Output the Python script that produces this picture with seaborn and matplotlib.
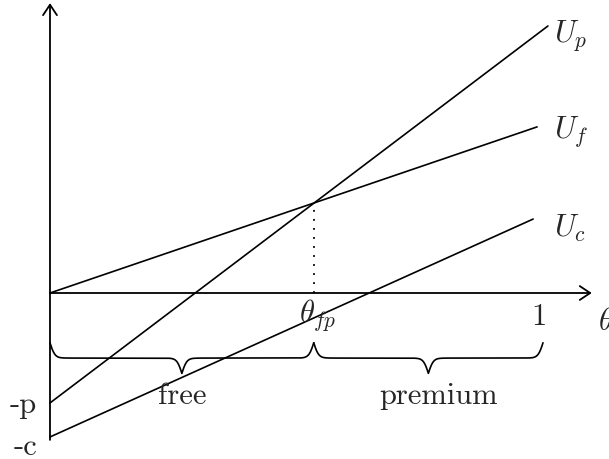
import numpy as np
import pandas as pd
import matplotlib.pyplot as plt
import seaborn as sns

# -----------------------------
# values (theta on x, utility on y)
# -----------------------------
theta_fp = 0.535
p = 0.223
c = 0.292

line_names = ["U_p", "U_f", "U_c"]
intercepts = [-p, 0.0, -c]
slopes = [0.757, 0.341, 0.451]
line_ends = [1.010, 0.988, 0.980]
label_y = [0.523, 0.327, 0.132]

segments = ["free", "premium"]
segment_bounds = [(0.0, theta_fp), (theta_fp, 1.0)]

sns.set_style("white")
plt.rcParams["mathtext.fontset"] = "cm"
plt.rcParams["axes.unicode_minus"] = False
plt.rcParams["font.family"] = ["cmr10", "DejaVu Serif"]
FS = 22

rows = []
for name, b, m, end in zip(line_names, intercepts, slopes, line_ends):
    for t in (0.0, end):
        rows.append({"theta": t, "U": b + m * t, "line": name})
df = pd.DataFrame(rows)

fig = plt.figure(figsize=(6.09, 4.59), dpi=100)
ax = fig.add_axes([0, 0, 1, 1])

sns.lineplot(data=df, x="theta", y="U", units="line", estimator=None,
             color="black", lw=1.2, ax=ax, legend=False)

ax.set_xlim(-0.1014, 1.1339)
ax.set_ylim(-0.3367, 0.5943)
ax.axis("off")

# axes with arrows
arrow = dict(arrowstyle="->,head_length=0.75,head_width=0.5", lw=1.3, color="black",
             shrinkA=0, shrinkB=0)
ax.annotate("", xy=(1.099, 0), xytext=(0, 0), arrowprops=arrow)
ax.annotate("", xy=(0, 0.588), xytext=(0, -0.298), arrowprops=arrow)

# dotted line at the crossing point
uf_at = intercepts[1] + slopes[1] * theta_fp
ax.plot([theta_fp, theta_fp], [0, uf_at], color="black", lw=1.3, ls=(0, (1, 4)))

# line labels
for name, end, ly in zip(line_names, line_ends, label_y):
    ax.text(1.022, ly, "$%s$" % name, fontsize=FS, ha="left", va="center")

ax.text(theta_fp + 0.008, -0.045, r"$\theta_{fp}$", fontsize=FS, ha="center", va="center")
ax.text(0.992, -0.049, "1", fontsize=FS, ha="center", va="center")
ax.text(1.112, -0.059, r"$\theta$", fontsize=FS, ha="left", va="center")
ax.text(-0.026, -0.227, "-p", fontsize=FS, ha="right", va="center")
ax.text(-0.026, -0.312, "-c", fontsize=FS, ha="right", va="center")


# curly braces under the axis
def brace(x0, x1, ytop, h, beta=200, n=401):
    x = np.linspace(x0, x1, n)
    xh = x[: n // 2 + 1]
    yh = 1 / (1 + np.exp(-beta * (xh - xh[0]))) + 1 / (1 + np.exp(-beta * (xh - xh[-1])))
    y = np.concatenate((yh, yh[-2::-1]))
    return x, ytop - (y - 0.5) * h


label_x = [0.268, 0.789]
for name, (a, b), lx in zip(segments, segment_bounds, label_x):
    bx, by = brace(a, b, -0.101, 0.062)
    ax.plot(bx, by, color="black", lw=1.2)
    ax.text(lx, -0.209, name, fontsize=FS, ha="center", va="center")

plt.savefig("out.png", dpi=100)
plt.close()
